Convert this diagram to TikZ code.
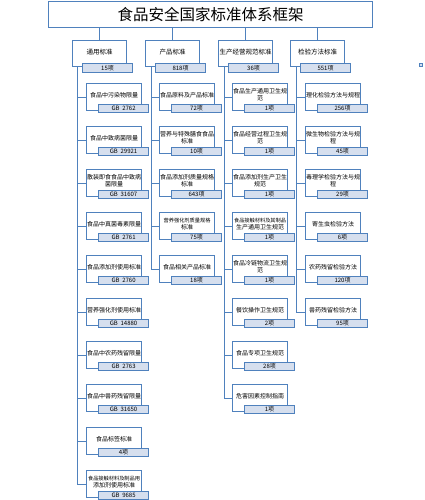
\documentclass[tikz,border=0pt]{standalone}
\usepackage{fontspec}
\setmainfont{Noto Sans CJK SC}
\usetikzlibrary{positioning}
\definecolor{kuangxian}{RGB}{79,129,189}
\definecolor{tiaose}{RGB}{214,223,238}
\tikzset{
  kuang/.style={draw=kuangxian,line width=1.1pt,fill=white,minimum width=55pt,minimum height=27pt,inner sep=0pt,anchor=north west},
  tiao/.style={draw=kuangxian,line width=1.1pt,fill=tiaose,minimum width=50pt,minimum height=8pt,inner sep=0pt,anchor=north west,font=\fontsize{6}{6}\selectfont},
  wenzi/.style={align=center,font=\fontsize{6}{7}\selectfont,inner sep=0pt},
  xiaozi/.style={align=center,font=\fontsize{5.2}{6}\selectfont,inner sep=0pt},
  xian/.style={draw=kuangxian,line width=1pt},
}
\begin{document}
\begin{tikzpicture}[x=1pt,y=-1pt]
\useasboundingbox (0,0) rectangle (425,500);

% title
\node[kuang,line width=1.4pt,minimum width=324pt,minimum height=26pt,font=\fontsize{15.5}{16}\selectfont] (biaoti) at (48,1) {食品安全国家标准体系框架};

% level one
\node[kuang,minimum width=54pt,minimum height=26pt] (tongyong) at (72,40) {};
\node[kuang,minimum width=54pt,minimum height=26pt] (chanpin) at (145,40) {};
\node[kuang,minimum width=54pt,minimum height=26pt] (guifan) at (218,40) {};
\node[kuang,minimum width=54pt,minimum height=26pt] (jianyan) at (290,40) {};
\node[wenzi,font=\fontsize{6.5}{7}\selectfont] at ([yshift=-12pt]tongyong.north) {通用标准};
\node[wenzi,font=\fontsize{6.5}{7}\selectfont] at ([yshift=-12pt]chanpin.north) {产品标准};
\node[wenzi,font=\fontsize{6.5}{7}\selectfont] at ([yshift=-12pt]guifan.north) {生产经营规范标准};
\node[wenzi,font=\fontsize{6.5}{7}\selectfont] at ([yshift=-12pt]jianyan.north) {检验方法标准};
\node[tiao,minimum height=9pt] (tongyong-n) at ([xshift=10pt,yshift=4pt]tongyong.south west) {15项};
\node[tiao,minimum height=9pt] (chanpin-n) at ([xshift=10pt,yshift=4pt]chanpin.south west) {818项};
\node[tiao,minimum height=9pt] (guifan-n) at ([xshift=10pt,yshift=4pt]guifan.south west) {36项};
\node[tiao,minimum height=9pt] (jianyan-n) at ([xshift=10pt,yshift=4pt]jianyan.south west) {551项};

\foreach \a in {tongyong,chanpin,guifan,jianyan}
  \draw[xian] (biaoti.south -| \a.north) -- (\a.north);

% 通用标准
\foreach \t/\n [count=\i] in {{食品中污染物限量}/{GB\ \ 2762},{食品中致病菌限量}/{GB\ \ 29921},{散装即食食品中致病\\菌限量}/{GB\ \ 31607},{食品中真菌毒素限量}/{GB\ \ 2761},{食品添加剂使用标准}/{GB\ \ 2760},{营养强化剂使用标准}/{GB\ \ 14880},{食品中农药残留限量}/{GB\ \ 2763},{食品中兽药残留限量}/{GB\ \ 31650},{食品标签标准}/{4项},{\fontsize{5.2}{6}\selectfont 食品接触材料及制品用\\添加剂使用标准}/{GB\ \ 9685}}{
  \node[kuang] (c1-\i) at (86,{83+43*(\i-1)}) {};
  \node[wenzi] at ([yshift=-12pt]c1-\i.north) {\t};
  \node[tiao] (c1-\i-n) at ([xshift=12pt,yshift=7pt]c1-\i.south west) {\n};
}
\coordinate (s1) at ([xshift=5pt]tongyong.south west);
\draw[xian] (s1) |- (c1-10.west);
\foreach \i in {1,...,9} \draw[xian] (s1 |- c1-\i.west) -- (c1-\i.west);

% 产品标准
\foreach \t/\n [count=\i] in {{食品原料及产品标准}/{72项},{营养与特殊膳食食品\\标准}/{10项},{食品添加剂质量规格\\标准}/{643项},{\fontsize{5.2}{6}\selectfont 营养强化剂质量规格\\标准}/{75项},{食品相关产品标准}/{18项}}{
  \node[kuang] (c2-\i) at (159,{83+43*(\i-1)}) {};
  \node[wenzi] at ([yshift=-12pt]c2-\i.north) {\t};
  \node[tiao] (c2-\i-n) at ([xshift=12pt,yshift=7pt]c2-\i.south west) {\n};
}
\coordinate (s2) at ([xshift=6pt]chanpin.south west);
\draw[xian] (s2) |- (c2-5.west);
\foreach \i in {1,...,4} \draw[xian] (s2 |- c2-\i.west) -- (c2-\i.west);

% 生产经营规范标准
\foreach \t/\n [count=\i] in {{食品生产通用卫生规\\范}/{1项},{食品经营过程卫生规\\范}/{1项},{食品添加剂生产卫生\\规范}/{1项},{\fontsize{5.2}{6}\selectfont 食品接触材料及其制品\\生产通用卫生规范}/{1项},{食品冷链物流卫生规\\范}/{1项},{餐饮操作卫生规范}/{2项},{食品专项卫生规范}/{28项},{危害因素控制指南}/{1项}}{
  \node[kuang] (c3-\i) at (232,{83+43*(\i-1)}) {};
  \node[wenzi] at ([yshift=-12pt]c3-\i.north) {\t};
  \node[tiao] (c3-\i-n) at ([xshift=12pt,yshift=7pt]c3-\i.south west) {\n};
}
\coordinate (s3) at ([xshift=6pt]guifan.south west);
\draw[xian] (s3) |- (c3-8.west);
\foreach \i in {1,...,7} \draw[xian] (s3 |- c3-\i.west) -- (c3-\i.west);

% 检验方法标准
\foreach \t/\n [count=\i] in {{理化检验方法与规程}/{256项},{微生物检验方法与规\\程}/{45项},{毒理学检验方法与规\\程}/{29项},{寄生虫检验方法}/{6项},{农药残留检验方法}/{120项},{兽药残留检验方法}/{95项}}{
  \node[kuang] (c4-\i) at (305,{83+43*(\i-1)}) {};
  \node[wenzi] at ([yshift=-12pt]c4-\i.north) {\t};
  \node[tiao] (c4-\i-n) at ([xshift=12pt,yshift=7pt]c4-\i.south west) {\n};
}
\coordinate (s4) at ([xshift=6pt]jianyan.south west);
\draw[xian] (s4) |- (c4-6.west);
\foreach \i in {1,...,5} \draw[xian] (s4 |- c4-\i.west) -- (c4-\i.west);

\node[draw=kuangxian,fill=tiaose,line width=0.8pt,minimum size=3pt,inner sep=0pt] (biaoji) at (421,65) {};
\end{tikzpicture}
\end{document}
